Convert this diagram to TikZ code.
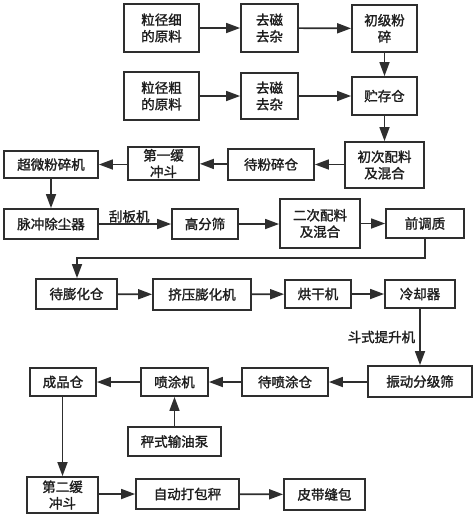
\documentclass[tikz,border=0pt]{standalone}
\usepackage{fontspec}
\setmainfont{Noto Sans CJK SC}[FakeBold=1.6]
\usetikzlibrary{arrows.meta}
\definecolor{ln}{HTML}{2E2E2E}
\definecolor{tx}{HTML}{1E1E1E}
\begin{document}
\begin{tikzpicture}[x=1pt,y=-1pt,
  box/.style={draw=ln,line width=1.8pt,fill=white,inner sep=0pt,align=center,text=tx,
    font=\fontsize{13.5}{16.5}\selectfont},
  arr/.style={draw=ln,line width=1.7pt,-{Triangle[length=14pt,width=10pt]}},
  lbl/.style={inner sep=0pt,text=tx,font=\fontsize{13.5}{16}\selectfont}]
\useasboundingbox (0,0) rectangle (475,517);
\node[box,minimum width=75pt,minimum height=48pt] (n1) at (161.5,28) {粒径细\\的原料};
\node[box,minimum width=57pt,minimum height=48pt] (n2) at (269.5,28) {去磁\\去杂};
\node[box,minimum width=65pt,minimum height=47pt] (n3) at (384.5,28.5) {初级粉\\碎};
\node[box,minimum width=75pt,minimum height=48pt] (n4) at (161.5,96) {粒径粗\\的原料};
\node[box,minimum width=57pt,minimum height=46pt] (n5) at (269.5,96) {去磁\\去杂};
\node[box,minimum width=65pt,minimum height=38pt] (n6) at (384.5,96) {贮存仓};
\node[box,minimum width=79pt,minimum height=46pt] (n7) at (384.5,165) {初次配料\\及混合};
\node[box,minimum width=86pt,minimum height=31pt] (n8) at (271,164.5) {待粉碎仓};
\node[box,minimum width=71pt,minimum height=33pt] (n9) at (163.5,163.5) {第一缓\\冲斗};
\node[box,minimum width=94pt,minimum height=27pt] (n10) at (51,164.5) {超微粉碎机};
\node[box,minimum width=94pt,minimum height=30pt] (n11) at (51,224) {脉冲除尘器};
\node[box,minimum width=66pt,minimum height=30pt] (n12) at (205,224) {高分筛};
\node[box,minimum width=80pt,minimum height=49pt] (n13) at (320,223.5) {二次配料\\及混合};
\node[box,minimum width=78pt,minimum height=29pt] (n14) at (425,223.5) {前调质};
\node[box,minimum width=81pt,minimum height=30pt] (n15) at (76.5,294) {待膨化仓};
\node[box,minimum width=98pt,minimum height=31pt] (n16) at (202,294.5) {挤压膨化机};
\node[box,minimum width=66pt,minimum height=28pt] (n17) at (318,294) {烘干机};
\node[box,minimum width=70pt,minimum height=28pt] (n18) at (420,294) {冷却器};
\node[box,minimum width=104pt,minimum height=31pt] (n19) at (420,381.5) {振动分级筛};
\node[box,minimum width=86pt,minimum height=28pt] (n20) at (285,382) {待喷涂仓};
\node[box,minimum width=67pt,minimum height=28pt] (n21) at (174.5,382) {喷涂机};
\node[box,minimum width=66pt,minimum height=28pt] (n22) at (63,382) {成品仓};
\node[box,minimum width=93pt,minimum height=29pt] (n23) at (174.5,441.5) {秤式输油泵};
\node[box,minimum width=71pt,minimum height=36pt] (n24) at (62.5,495) {第二缓\\冲斗};
\node[box,minimum width=103pt,minimum height=30pt] (n25) at (187.5,494) {自动打包秤};
\node[box,minimum width=81pt,minimum height=31pt] (n26) at (324.5,494.5) {皮带缝包};
\coordinate (c1) at (425,258);
\coordinate (c2) at (77,258);
\draw[arr] (n1) -- (n2);
\draw[arr] (n2) -- (n3);
\draw[arr] (n4) -- (n5);
\draw[arr] (n5) -- (n6);
\draw[arr] (n3) -- (n6);
\draw[arr] (n6) -- (n7);
\draw[arr] (n7.west |- n8) -- (n8);
\draw[arr] (n8) -- (n9);
\draw[arr] (n9.west |- n10) -- (n10);
\draw[arr] (n10) -- (n11);
\draw[arr] (n11) -- node[lbl,above=0.5pt,pos=0.42]{刮板机} (n12);
\draw[arr] (n12) -- (n12 -| n13.west);
\draw[arr] (n13.east |- n14) -- (n14);
\draw[arr,rounded corners=0pt] (n14.south) -- (c1) -- (c2) -- (n15.north -| c2);
\draw[arr] (n15) -- (n16);
\draw[arr] (n16) -- (n17);
\draw[arr] (n17) -- (n18);
\draw[arr] (n18) -- node[lbl,left=4pt,pos=0.5]{斗式提升机} (n19);
\draw[arr] (n19.west |- n20) -- (n20);
\draw[arr] (n20) -- (n21);
\draw[arr] (n21) -- (n22);
\draw[arr] (n23) -- (n21);
\draw[arr] (n22.south -| n24) -- (n24);
\draw[arr] (n24.east |- n25) -- (n25);
\draw[arr] (n25) -- (n26);
\end{tikzpicture}
\end{document}
